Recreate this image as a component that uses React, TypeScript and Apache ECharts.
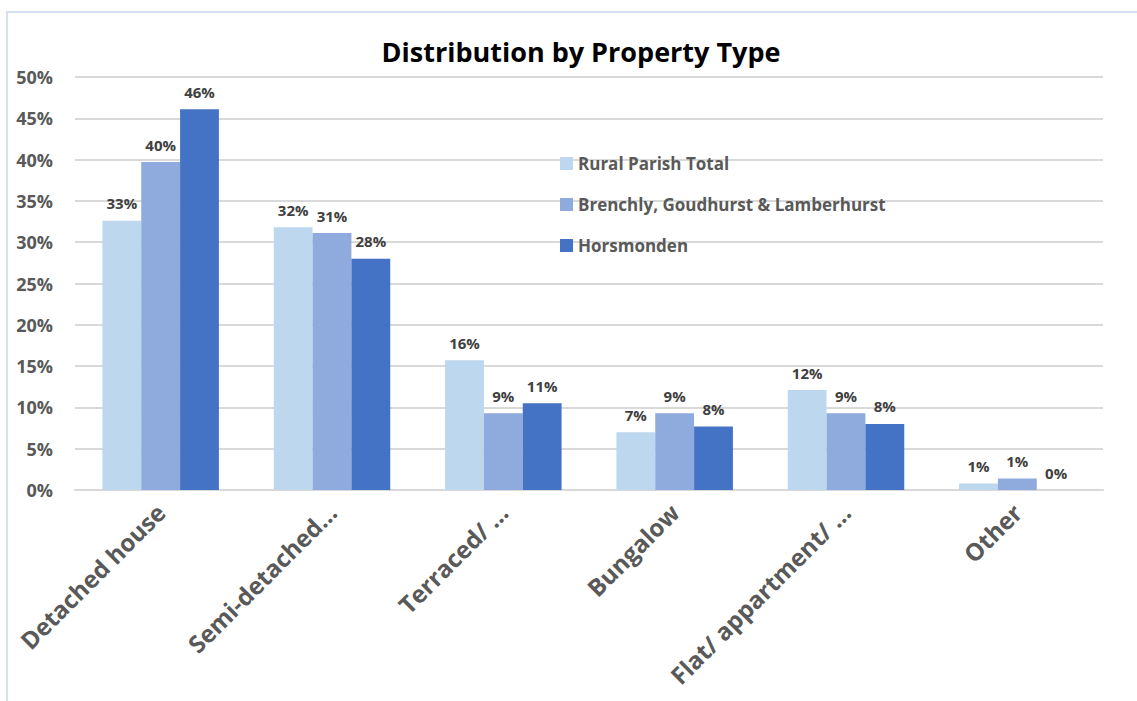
import React, { useEffect, useRef } from "react";
import * as echarts from "echarts";

const categories = ["Detached house", "Semi-detached…", "Terraced/ …", "Bungalow", "Flat/ appartment/ …", "Other"];
const seriesNames = ["Rural Parish Total", "Brenchly, Goudhurst & Lamberhurst", "Horsmonden"];
const ruralValues = [32.6, 31.8, 15.7, 7.0, 12.1, 0.8];
const brenchlyValues = [39.7, 31.1, 9.3, 9.3, 9.3, 1.4];
const horsmondenValues = [46.1, 28.0, 10.5, 7.7, 8.0, 0];
const colors = ["#BDD7EE", "#8FAADC", "#4472C4"];
const yTicks = [0, 5, 10, 15, 20, 25, 30, 35, 40, 45, 50];

const FONT = "'Open Sans', 'Liberation Sans', sans-serif";

export default function App() {
  const ref = useRef<HTMLDivElement>(null);
  useEffect(() => {
    if (!ref.current) return;
    const chart = echarts.init(ref.current, undefined, { renderer: "svg" });
    const allValues = [ruralValues, brenchlyValues, horsmondenValues];
    chart.setOption({
      animation: false,
      backgroundColor: "#ffffff",
      title: {
        text: "Distribution by Property Type",
        left: 576,
        textAlign: "center",
        top: 33,
        textStyle: { fontFamily: FONT, fontSize: 27, fontWeight: "bold", color: "#000000" },
      },
      graphic: [
        {
          type: "polyline",
          shape: { points: [[7, 701], [7, 12], [1137, 12]] },
          style: { stroke: "#D6E0F2", lineWidth: 2, fill: "none" },
          silent: true,
        },
      ],
      legend: {
        orient: "vertical",
        left: 555,
        top: 147,
        itemGap: 18,
        itemWidth: 13,
        itemHeight: 13,
        icon: "rect",
        data: seriesNames,
        textStyle: { fontFamily: FONT, fontSize: 17, color: "#595959", fontWeight: "bold", lineHeight: 23 },
      },
      grid: { left: 75, right: 34, top: 77, bottom: 211, containLabel: false },
      xAxis: {
        type: "category",
        data: categories,
        axisLine: { show: true, lineStyle: { color: "#D9D9D9", width: 2 } },
        axisTick: { show: false },
        axisLabel: {
          rotate: 45,
          interval: 0,
          margin: 18,
          fontFamily: FONT,
          fontSize: 24,
          fontWeight: "bold",
          color: "#595959",
        },
      },
      yAxis: {
        type: "value",
        min: yTicks[0],
        max: yTicks[yTicks.length - 1],
        interval: 5,
        axisLine: { show: false },
        axisTick: { show: false },
        splitLine: { lineStyle: { color: "#D9D9D9", width: 2 } },
        axisLabel: {
          formatter: (v: number) => `${v}%`,
          fontFamily: FONT,
          fontSize: 18,
          fontWeight: "bold",
          color: "#595959",
          margin: 22,
        },
      },
      series: seriesNames.map((name, i) => ({
        name,
        type: "bar",
        data: allValues[i],
        barGap: "0%",
        barCategoryGap: "32%",
        itemStyle: { color: colors[i] },
        label: {
          show: true,
          position: "top",
          distance: 10,
          formatter: (p: any) => `${Math.round(p.value)}%`,
          fontFamily: FONT,
          fontSize: 15,
          fontWeight: "bold",
          color: "#404040",
        },
      })),
    });
    return () => chart.dispose();
  }, []);
  return <div ref={ref} style={{ position: "fixed", left: 0, top: 0, width: 1137, height: 701 }} />;
}
